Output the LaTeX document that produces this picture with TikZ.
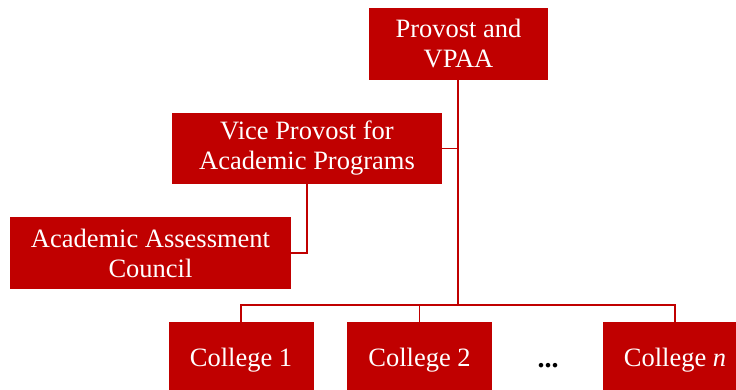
\documentclass[tikz,border=0pt]{standalone}
\usepackage{fontspec}
\setmainfont{Liberation Serif}
\definecolor{orgred}{HTML}{C00000}
\begin{document}
\begin{tikzpicture}[x=1pt,y=-1pt,
  unit/.style={draw=none, fill=orgred, text=white, font=\fontsize{26.5}{30}\selectfont,
    align=center, inner sep=0pt, minimum width=#1},
  college/.style={unit=145pt, minimum height=76pt},
  link/.style={draw=orgred, line width=1.3pt}]
\useasboundingbox (0,0) rectangle (736,390);
\clip (0,0) rectangle (736,390);

% boxes
\node[unit=179pt, minimum height=72pt] (prov) at (458.5,44) {Provost and\\VPAA};
\node[unit=270pt, minimum height=71pt] (vp) at (307,148.5) {Vice Provost for\\Academic Programs};
\node[unit=281pt, minimum height=72pt] (aac) at (150.5,253) {Academic Assessment\\Council};
\node[college] (c1) at (241,360) {College 1};
\node[college] (c2) at (419.5,360) {College 2};
\node[college] (cn) at (675,360) {College \textit{n}};
\node[font=\fontsize{28}{30}\selectfont\bfseries, inner sep=0pt] (dots) at (548,366) {...};

% connectors
\coordinate (bus) at (458,305);
\draw[link] (prov.south -| bus) -- (bus);
\draw[link] (vp.east) -- (vp.east -| bus);
\draw[link] (aac.east) -| (vp.south);
\draw[link] (c1.north) |- (cn.north |- bus) -- (cn.north);
\draw[link] (c2.north) -- (c2.north |- bus);
\end{tikzpicture}
\end{document}
